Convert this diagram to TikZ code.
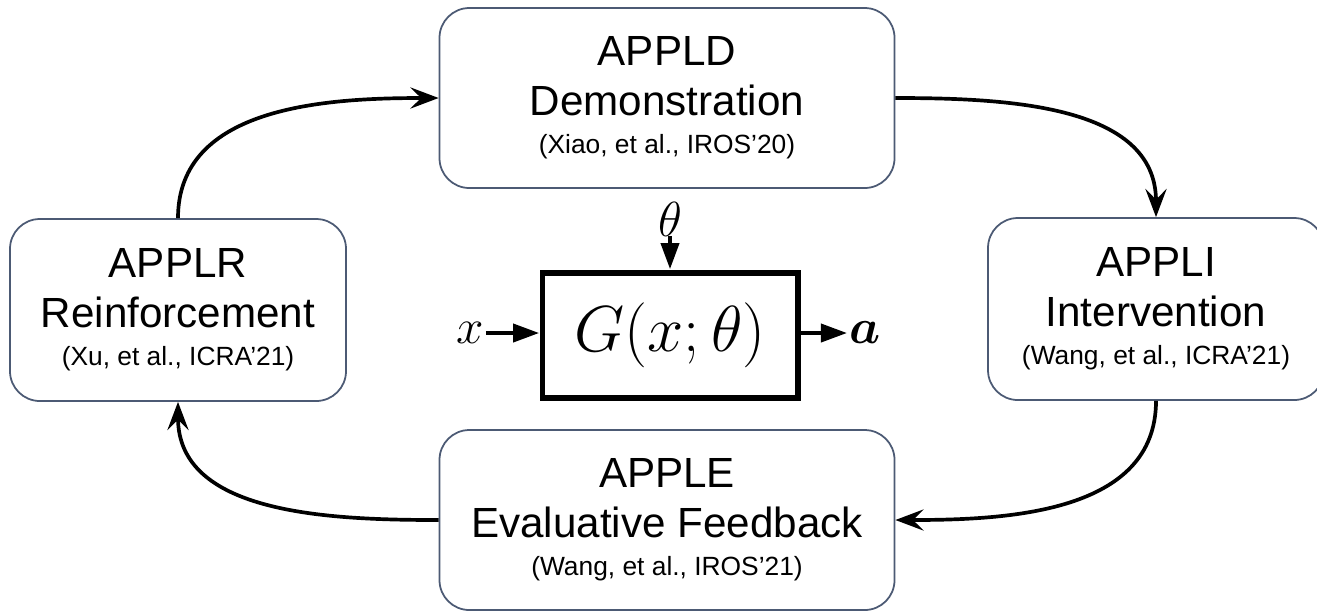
\documentclass[tikz,border=0pt]{standalone}
\usepackage{fix-cm}
\usepackage{amsmath}
\usepackage[no-math]{fontspec}
\setmainfont{Liberation Sans}
\usetikzlibrary{arrows.meta}

\definecolor{edgeblue}{RGB}{76,90,116}
\newcommand{\paperref}[1]{{\fontsize{15}{17}\selectfont #1}}

\begin{document}
\begin{tikzpicture}[x=.2mm,y=-.2mm,
  stage/.style={draw=edgeblue,line width=1pt,rounded corners=17pt,align=center,
    font=\fontsize{24}{28.5}\selectfont,inner sep=0pt},
  flow/.style={-{Stealth[length=16pt,width=12pt,inset=6pt]},line width=2.1pt},
  sig/.style={-{Triangle[length=15pt,width=10pt]},line width=2.8pt}]
  \clip (0,0) rectangle (1317,612);
  \fill[white] (0,0) rectangle (1317,612);
  % the four learning stages
  \node[stage,minimum width=9.1cm,minimum height=3.6cm] (appld) at (667,98)
    {APPLD\\Demonstration\\[-7pt]\paperref{(Xiao, et al., IROS’20)}};
  \node[stage,minimum width=6.72cm,minimum height=3.64cm] (appli) at (1156,309)
    {APPLI\\Intervention\\[-7pt]\paperref{(Wang, et al., ICRA’21)}};
  \node[stage,minimum width=9.1cm,minimum height=3.6cm] (apple) at (667,520)
    {APPLE\\Evaluative Feedback\\[-7pt]\paperref{(Wang, et al., IROS’21)}};
  \node[stage,minimum width=6.72cm,minimum height=3.64cm] (applr) at (178,310)
    {APPLR\\Reinforcement\\[-7pt]\paperref{(Xu, et al., ICRA’21)}};
  \draw[flow] (applr.north) to[out=90,in=180] (appld.west);
  \draw[flow] (appld.east) to[out=0,in=90] (appli.north);
  \draw[flow] (appli.south) to[out=-90,in=0] (apple.east);
  \draw[flow] (apple.west) to[out=180,in=-90] (applr.south);
  % planner in the middle
  \node[draw,line width=3.4pt,minimum width=5.1cm,minimum height=2.5cm,
    font=\fontsize{37}{44}\selectfont] (planner) at (670,335) {$G(x;\theta)$};
  \node[inner sep=0pt,font=\fontsize{28}{32}\selectfont] (theta) at (670,219) {$\theta$};
  \node[inner sep=1pt,font=\fontsize{28}{32}\selectfont] (xin) at (470,333) {$x$};
  \node[inner sep=1pt,font=\fontsize{28}{32}\selectfont] (aout) at (865,333) {$\boldsymbol{a}$};
  \draw[sig] (theta.south) -- (planner.north);
  \draw[sig] (xin.east) -- (planner.west |- xin.east);
  \draw[sig] (planner.east |- aout.west) -- (aout.west);
\end{tikzpicture}
\end{document}
